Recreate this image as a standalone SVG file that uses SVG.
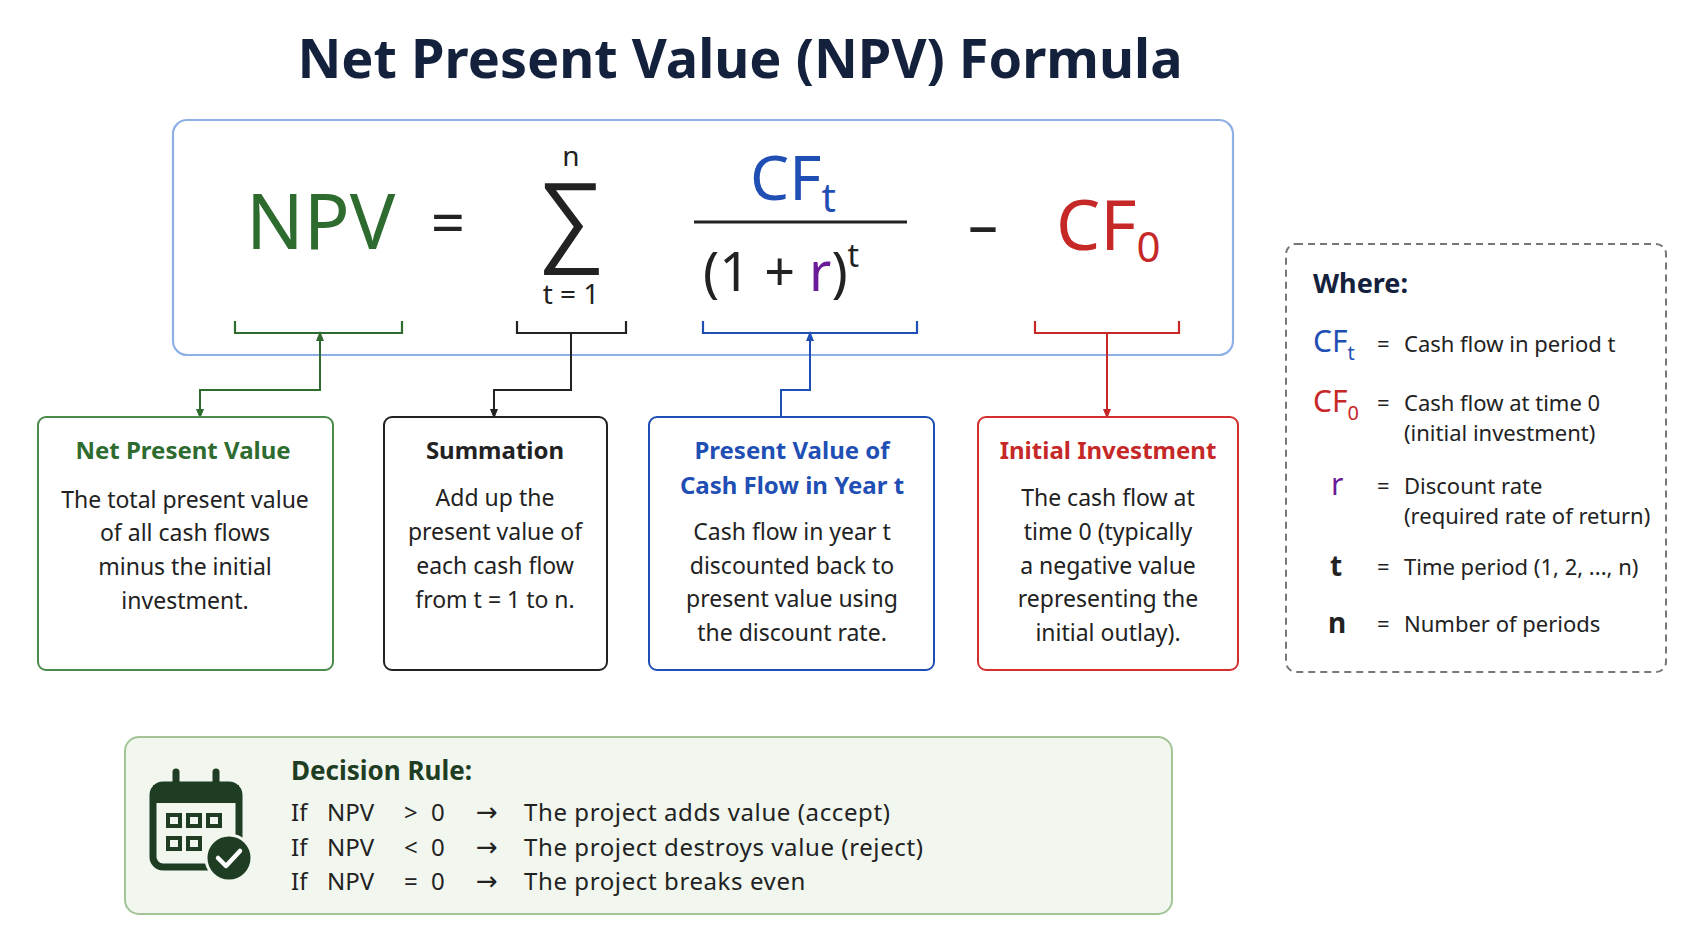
<svg xmlns="http://www.w3.org/2000/svg" width="1693" height="929" viewBox="0 0 1693 929">
<defs>
<style>
text{font-family:"Noto Sans","Open Sans","Liberation Sans",sans-serif;}
.t{font-size:24px;font-weight:bold;text-anchor:middle}
.b{font-size:23px;fill:#222;text-anchor:middle}
.w{font-size:22px;fill:#222}
.d{font-size:24px;fill:#222}
.ar{font-size:26px;fill:#222;font-family:"DejaVu Sans",sans-serif}
.box{fill:#fff;stroke-width:2}
.br{fill:none;stroke-width:2.2}
</style>
<marker id="ag" markerWidth="10" markerHeight="10" refX="5" refY="5" orient="auto-start-reverse" markerUnits="userSpaceOnUse"><path d="M0,1 L10,5 L0,9z" fill="#2e6b2e"/></marker>
<marker id="ak" markerWidth="10" markerHeight="10" refX="5" refY="5" orient="auto-start-reverse" markerUnits="userSpaceOnUse"><path d="M0,1 L10,5 L0,9z" fill="#222"/></marker>
<marker id="ab" markerWidth="10" markerHeight="10" refX="5" refY="5" orient="auto-start-reverse" markerUnits="userSpaceOnUse"><path d="M0,1 L10,5 L0,9z" fill="#1f4fb4"/></marker>
<marker id="ar" markerWidth="10" markerHeight="10" refX="5" refY="5" orient="auto-start-reverse" markerUnits="userSpaceOnUse"><path d="M0,1 L10,5 L0,9z" fill="#c62828"/></marker>
</defs>
<rect width="1693" height="929" fill="#fff"/>
<text x="740" y="78" font-size="54" font-weight="bold" fill="#14213d" text-anchor="middle">Net Present Value (NPV) Formula</text>

<g id="formula">
<rect x="173" y="120" width="1060" height="235" rx="14" fill="#fff" stroke="#8fb0e6" stroke-width="2.2"/>
<text x="246" y="249" font-size="76" fill="#2e6b2e">NPV</text>
<text x="448" y="244" font-size="60" fill="#222" text-anchor="middle">=</text>
<text x="571" y="166" font-size="28" fill="#222" text-anchor="middle">n</text>
<text x="571" y="252" font-size="96" fill="#222" text-anchor="middle">∑</text>
<text x="571" y="304" font-size="28" fill="#222" text-anchor="middle">t = 1</text>
<text x="750" y="200" font-size="62" fill="#1f4fb4">CF<tspan font-size="40" dy="12">t</tspan></text>
<line x1="694" y1="222" x2="907" y2="222" stroke="#222" stroke-width="3"/>
<text x="703" y="291" font-size="54" fill="#222">(1 + <tspan fill="#6a1b9a">r</tspan>)<tspan font-size="32" dy="-24">t</tspan></text>
<text x="983" y="246" font-size="60" fill="#222" text-anchor="middle">–</text>
<text x="1056" y="250" font-size="70" fill="#c62828">CF<tspan font-size="42" dy="12">0</tspan></text>
</g>

<g id="connectors">
<path class="br" stroke="#2e6b2e" d="M235,321 v12 h167 v-12"/>
<path class="br" stroke="#222" d="M517,321 v12 h109 v-12"/>
<path class="br" stroke="#1f4fb4" d="M703,321 v12 h214 v-12"/>
<path class="br" stroke="#c62828" d="M1035,321 v12 h144 v-12"/>
<path fill="none" stroke="#2e6b2e" stroke-width="2" d="M320,336 V390 H200 V414" marker-start="url(#ag)" marker-end="url(#ag)"/>
<path fill="none" stroke="#222" stroke-width="2" d="M571,333 V390 H494 V414" marker-end="url(#ak)"/>
<path fill="none" stroke="#1f4fb4" stroke-width="2" d="M781,416 V390 H810 V336" marker-end="url(#ab)"/>
<path fill="none" stroke="#c62828" stroke-width="2" d="M1107,333 V414" marker-end="url(#ar)"/>
</g>

<g id="n-npv">
<rect class="box" x="38" y="417" width="295" height="253" rx="8" stroke="#4a8a4a"/>
<text class="t" x="183" y="459" fill="#2e6b2e">Net Present Value</text>
<text class="b" x="185" y="508">The total present value</text>
<text class="b" x="185" y="541">of all cash flows</text>
<text class="b" x="185" y="575">minus the initial</text>
<text class="b" x="185" y="609">investment.</text>
</g>
<g id="n-sum">
<rect class="box" x="384" y="417" width="223" height="253" rx="8" stroke="#222"/>
<text class="t" x="495" y="459" fill="#222">Summation</text>
<text class="b" x="495" y="506">Add up the</text>
<text class="b" x="495" y="540">present value of</text>
<text class="b" x="495" y="574">each cash flow</text>
<text class="b" x="495" y="608">from t = 1 to n.</text>
</g>
<g id="n-pv">
<rect class="box" x="649" y="417" width="285" height="253" rx="8" stroke="#1f4fb4"/>
<text class="t" x="792" y="459" fill="#1f4fb4">Present Value of</text>
<text class="t" x="792" y="494" fill="#1f4fb4">Cash Flow in Year t</text>
<text class="b" x="792" y="540">Cash flow in year t</text>
<text class="b" x="792" y="574">discounted back to</text>
<text class="b" x="792" y="607">present value using</text>
<text class="b" x="792" y="641">the discount rate.</text>
</g>
<g id="n-init">
<rect class="box" x="978" y="417" width="260" height="253" rx="8" stroke="#d32f2f"/>
<text class="t" x="1108" y="459" fill="#c62828">Initial Investment</text>
<text class="b" x="1108" y="506">The cash flow at</text>
<text class="b" x="1108" y="540">time 0 (typically</text>
<text class="b" x="1108" y="574">a negative value</text>
<text class="b" x="1108" y="607">representing the</text>
<text class="b" x="1108" y="641">initial outlay).</text>
</g>

<g id="where">
<rect x="1286" y="244" width="380" height="428" rx="10" fill="#fff" stroke="#777" stroke-width="2" stroke-dasharray="7,5"/>
<text x="1313" y="293" font-size="27" font-weight="bold" fill="#14213d">Where:</text>
<text x="1313" y="352" font-size="30" fill="#1f4fb4">CF<tspan font-size="20" dy="8">t</tspan></text>
<text class="w" x="1377" y="352">=</text><text class="w" x="1404" y="352">Cash flow in period t</text>
<text x="1313" y="412" font-size="30" fill="#c62828">CF<tspan font-size="20" dy="8">0</tspan></text>
<text class="w" x="1377" y="411">=</text><text class="w" x="1404" y="411">Cash flow at time 0</text>
<text class="w" x="1404" y="441">(initial investment)</text>
<text x="1331" y="495" font-size="30" fill="#6a1b9a">r</text>
<text class="w" x="1377" y="494">=</text><text class="w" x="1404" y="494">Discount rate</text>
<text class="w" x="1404" y="524">(required rate of return)</text>
<text x="1330" y="576" font-size="28" font-weight="bold" fill="#222">t</text>
<text class="w" x="1377" y="575">=</text><text class="w" x="1404" y="575">Time period (1, 2, ..., n)</text>
<text x="1328" y="633" font-size="28" font-weight="bold" fill="#222">n</text>
<text class="w" x="1377" y="632">=</text><text class="w" x="1404" y="632">Number of periods</text>
</g>

<g id="decision">
<rect x="125" y="737" width="1047" height="177" rx="14" fill="#f1f6ee" stroke="#a3c495" stroke-width="2"/>
<g id="icon">
<rect x="153" y="785" width="86" height="82" rx="10" fill="none" stroke="#1e3d22" stroke-width="7"/>
<rect x="153" y="785" width="86" height="18" fill="#1e3d22"/>
<line x1="176" y1="772" x2="176" y2="792" stroke="#1e3d22" stroke-width="7" stroke-linecap="round"/>
<line x1="216" y1="772" x2="216" y2="792" stroke="#1e3d22" stroke-width="7" stroke-linecap="round"/>
<g fill="none" stroke="#1e3d22" stroke-width="4">
<rect x="168" y="815" width="12" height="11"/><rect x="188" y="815" width="12" height="11"/><rect x="208" y="815" width="12" height="11"/>
<rect x="168" y="838" width="12" height="11"/><rect x="188" y="838" width="12" height="11"/>
</g>
<circle cx="229" cy="858" r="23" fill="#1e3d22" stroke="#f1f6ee" stroke-width="3"/>
<path d="M218,858 l8,8 l14,-15" fill="none" stroke="#fff" stroke-width="4.5" stroke-linecap="round" stroke-linejoin="round"/>
</g>
<text x="291" y="780" font-size="26" font-weight="bold" fill="#1e3d22">Decision Rule:</text>
<text class="d" x="291" y="821">If</text><text class="d" x="327" y="821">NPV</text><text class="d" x="404" y="821">&gt;</text><text class="d" x="431" y="821">0</text><text class="ar" x="476" y="821">→</text><text class="d" x="524" y="821" letter-spacing="0.6">The project adds value (accept)</text>
<text class="d" x="291" y="856">If</text><text class="d" x="327" y="856">NPV</text><text class="d" x="404" y="856">&lt;</text><text class="d" x="431" y="856">0</text><text class="ar" x="476" y="856">→</text><text class="d" x="524" y="856" letter-spacing="0.6">The project destroys value (reject)</text>
<text class="d" x="291" y="890">If</text><text class="d" x="327" y="890">NPV</text><text class="d" x="404" y="890">=</text><text class="d" x="431" y="890">0</text><text class="ar" x="476" y="890">→</text><text class="d" x="524" y="890" letter-spacing="0.6">The project breaks even</text>
</g>
</svg>
